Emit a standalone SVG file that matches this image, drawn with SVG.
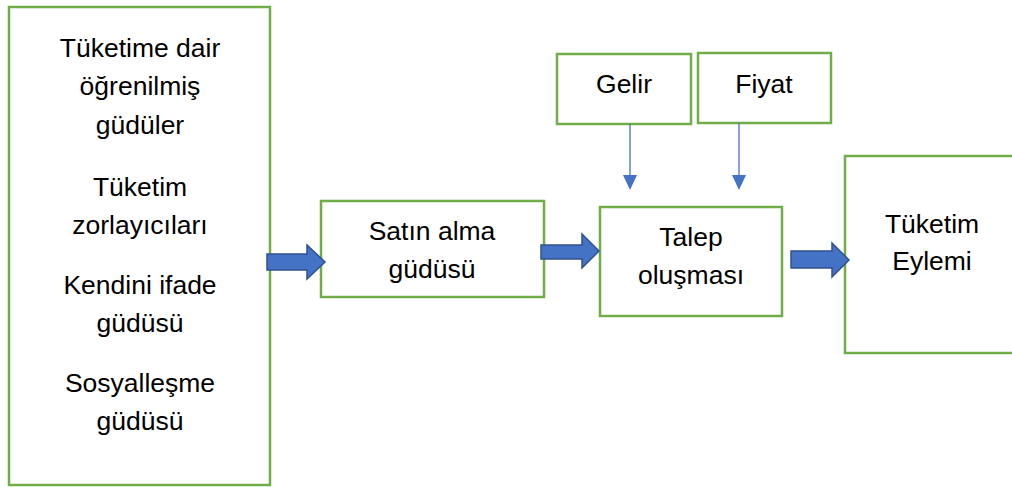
<svg xmlns="http://www.w3.org/2000/svg" width="1012" height="487" viewBox="0 0 1012 487">
<style>
.box{fill:#fff;stroke:#70AD47;stroke-width:2.5}
.t{font-family:"Liberation Sans",Arial,sans-serif;font-size:26.5px;fill:#000;text-anchor:middle}
.blk{fill:#4472C4;stroke:#2F528F;stroke-width:1.5}
.thin{stroke:#4472C4;stroke-width:1.3;fill:none}
.ah{fill:#4472C4}
</style>
<rect width="1012" height="487" fill="#fff"/>
<g id="motives">
<rect class="box" x="9" y="7" width="261" height="478"/>
<text class="t" x="140" y="57">Tüketime dair</text>
<text class="t" x="140" y="95">öğrenilmiş</text>
<text class="t" x="140" y="134">güdüler</text>
<text class="t" x="140" y="196">Tüketim</text>
<text class="t" x="140" y="234">zorlayıcıları</text>
<text class="t" x="140" y="294">Kendini ifade</text>
<text class="t" x="140" y="332">güdüsü</text>
<text class="t" x="140" y="392">Sosyalleşme</text>
<text class="t" x="140" y="430">güdüsü</text>
</g>
<g id="satin">
<rect class="box" x="321" y="201" width="223" height="96"/>
<text class="t" x="432" y="240">Satın alma</text>
<text class="t" x="432" y="278">güdüsü</text>
</g>
<g id="talep">
<rect class="box" x="600" y="207" width="182" height="109"/>
<text class="t" x="691" y="246">Talep</text>
<text class="t" x="691" y="284">oluşması</text>
</g>
<g id="gelir">
<rect class="box" x="557" y="54" width="134" height="70"/>
<text class="t" x="624" y="93">Gelir</text>
</g>
<g id="fiyat">
<rect class="box" x="698" y="53" width="133" height="70"/>
<text class="t" x="764" y="93">Fiyat</text>
</g>
<g id="eylem">
<rect class="box" x="845" y="156" width="170" height="197"/>
<text class="t" x="932" y="233">Tüketim</text>
<text class="t" x="932" y="270">Eylemi</text>
</g>
<g id="connectors">
<path class="blk" d="M267,254 H307 V245 L325,262 L307,279 V270 H267 Z"/>
<path class="blk" d="M541,245 H582 V234 L599,251 L582,268 V259 H541 Z"/>
<path class="blk" d="M791,251 H832 V243 L849,260 L832,277 V268 H791 Z"/>
<line class="thin" x1="630" y1="124" x2="630" y2="177"/>
<path class="ah" d="M623,175 L637,175 L630,190 Z"/>
<line class="thin" x1="739" y1="123" x2="739" y2="177"/>
<path class="ah" d="M732,175 L746,175 L739,190 Z"/>
</g>
</svg>
